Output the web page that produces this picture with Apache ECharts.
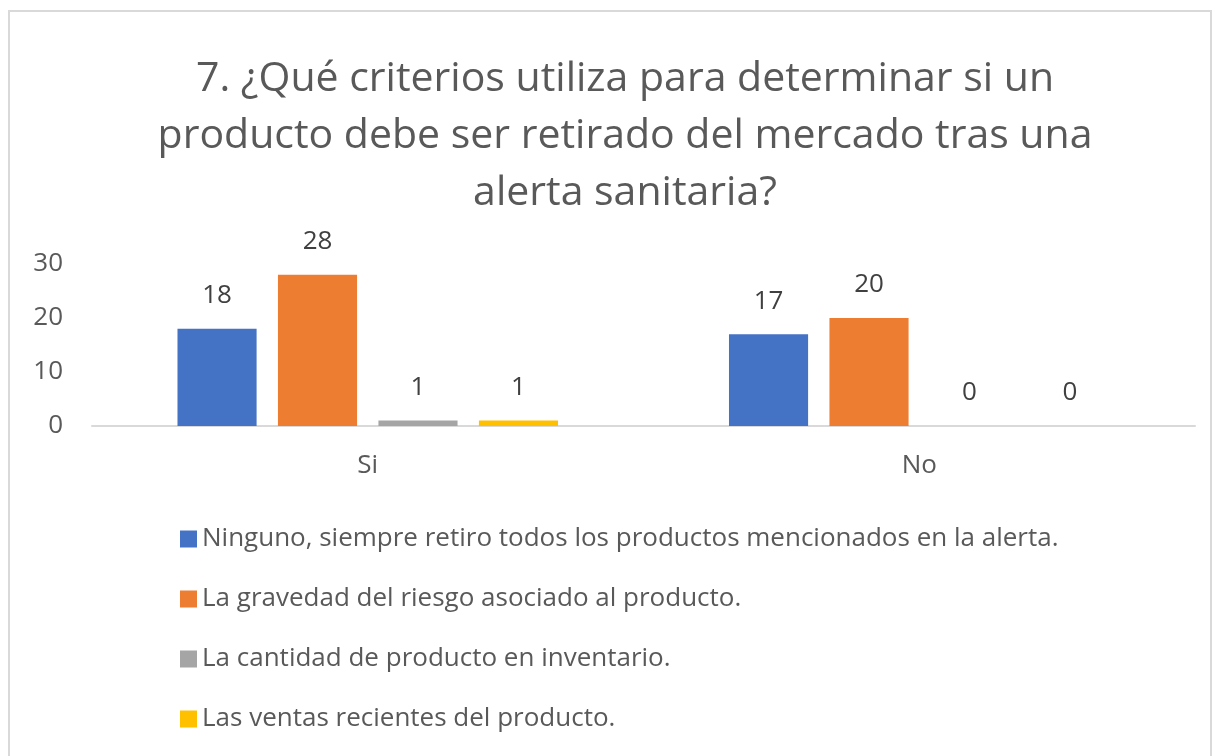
<!DOCTYPE html>
<html lang="es">
<head>
  <meta charset="UTF-8">
  <title>Criterios retiro producto</title>
  <style>
    html, body { margin: 0; padding: 0; background: #fff; }
    .frame {
      position: absolute;
      left: 8px;
      top: 10px;
      width: 1204px;
      height: 760px;
      border: 2px solid #d9d9d9;
      box-sizing: border-box;
    }
    #chart {
      position: absolute;
      left: 0;
      top: 0;
      width: 1217px;
      height: 756px;
    }
  </style>
</head>
<body>
<div class="frame"></div>
<div id="chart"></div>

<script src="https://cdn.jsdelivr.net/npm/echarts@6/dist/echarts.min.js"></script>
<script>
  // datos
  const categories = ['Si', 'No'];
  const seriesNames = [
    'Ninguno, siempre retiro todos los productos mencionados en la alerta.',
    'La gravedad del riesgo asociado al producto.',
    'La cantidad de producto en inventario.',
    'Las ventas recientes del producto.'
  ];
  const ninguno = [18, 17];
  const gravedad = [28, 20];
  const cantidad = [1, 0];
  const ventas = [1, 0];
  const colors = ['#4472C4', '#ED7D31', '#A5A5A5', '#FFC000'];
  const titleText = '7. ¿Qué criterios utiliza para determinar si un\nproducto debe ser retirado del mercado tras una\nalerta sanitaria?';

  const font = 'Open Sans';
  const values = [ninguno, gravedad, cantidad, ventas];

  const instance = echarts.init(document.getElementById('chart'));

  const series = values.map((v, i) => ({
    name: seriesNames[i],
    type: 'bar',
    data: v,
    barGap: '27%',
    barCategoryGap: '31%',
    itemStyle: { color: colors[i] },
    label: {
      show: true,
      position: 'top',
      distance: 20,
      color: '#404040',
      fontSize: 26,
      fontFamily: font
    }
  }));

  instance.setOption({
    animation: false,
    color: colors,
    title: {
      text: titleText,
      left: 620,
      textAlign: 'center',
      top: 46,
      textStyle: {
        color: '#595959',
        fontSize: 41,
        fontWeight: 'normal',
        fontFamily: font,
        lineHeight: 57
      }
    },
    legend: {
      orient: 'vertical',
      left: 175,
      top: 521,
      itemWidth: 17,
      itemHeight: 17,
      itemGap: 34,
      icon: 'rect',
      textStyle: {
        color: '#595959',
        fontSize: 26,
        fontFamily: font
      },
      data: seriesNames
    },
    grid: {
      left: 92,
      right: 22,
      top: 264,
      bottom: 330,
      containLabel: false
    },
    xAxis: {
      type: 'category',
      data: categories,
      axisLine: { lineStyle: { color: '#d9d9d9', width: 2 } },
      axisTick: { show: false },
      axisLabel: {
        color: '#595959',
        fontSize: 26,
        fontFamily: font,
        margin: 27
      }
    },
    yAxis: {
      type: 'value',
      min: 0,
      max: 30,
      interval: 10,
      axisLine: { show: false },
      axisTick: { show: false },
      splitLine: { show: false },
      axisLabel: {
        color: '#595959',
        fontSize: 26,
        fontFamily: font,
        margin: 29
      }
    },
    series: series
  });
</script>
</body>
</html>
